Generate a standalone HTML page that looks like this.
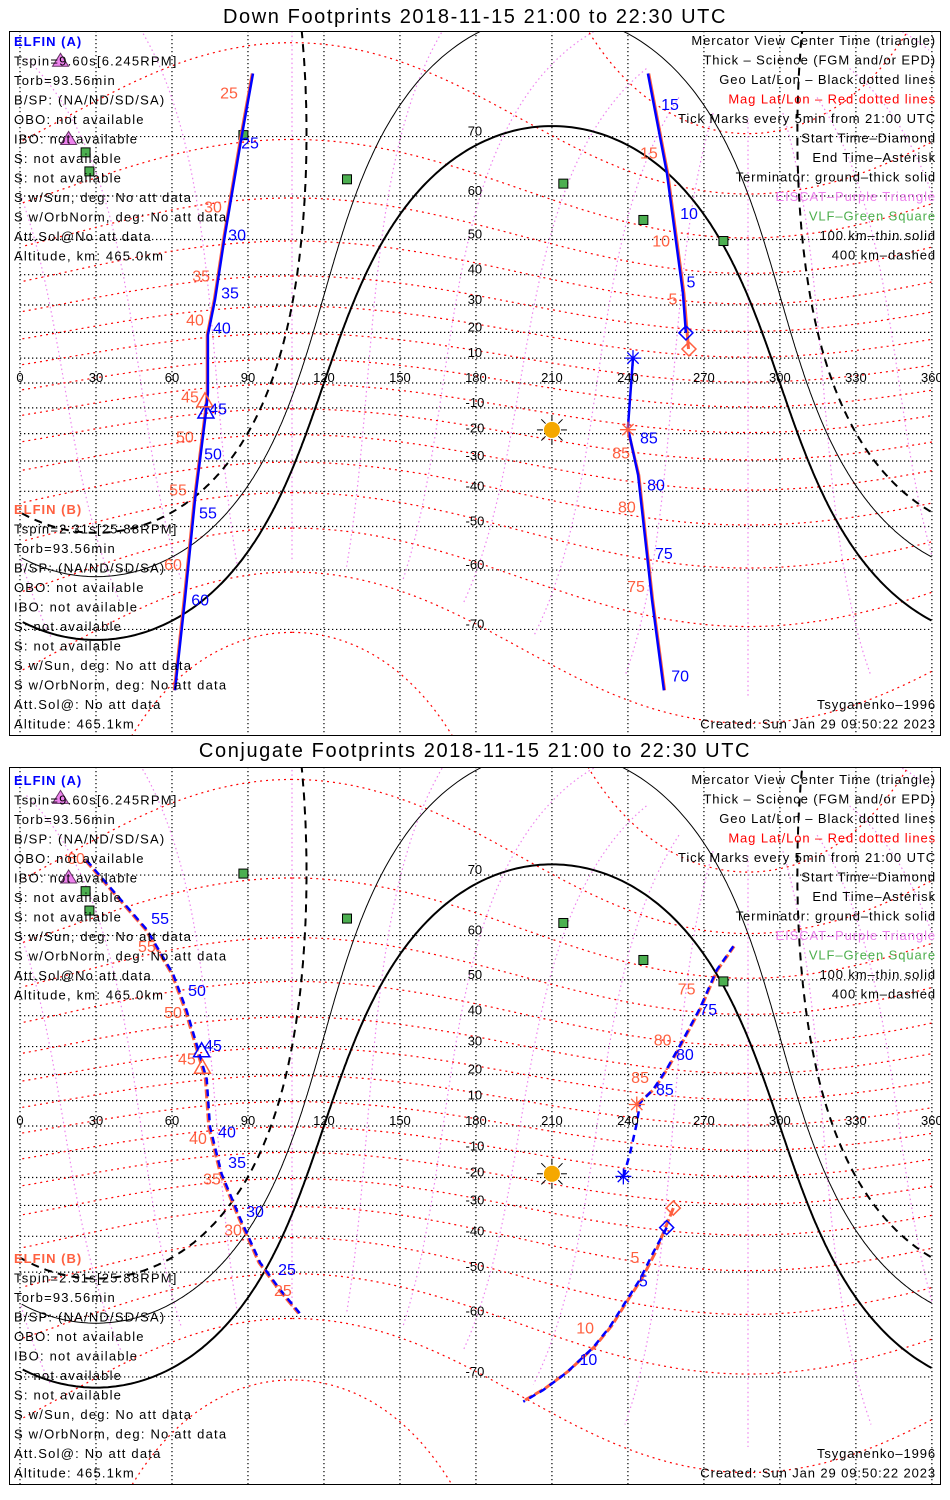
<!DOCTYPE html>
<html><head><meta charset="utf-8"><title>ELFIN Footprints</title>
<style>
html,body{margin:0;padding:0;background:#fff;width:950px;height:1500px;overflow:hidden;}
svg{display:block;font-family:"Liberation Sans",sans-serif;}
</style></head>
<body>
<svg id="chart" width="950" height="1500" viewBox="0 0 950 1500" xmlns="http://www.w3.org/2000/svg">
<rect x="0" y="0" width="950" height="1500" fill="#fff"/>
</svg>
<script>
// ---------- axis ticks ----------
const lonTicks = [0,30,60,90,120,150,180,210,240,270,300,330,360];
const latTicks = [-70,-60,-50,-40,-30,-20,-10,10,20,30,40,50,60,70];
const magLatLevels = [-80,-70,-60,-50,-40,-30,-20,-10,0,10,20,30,40,50,60,70,80];
const magLonLevels = [0,30,60,90,120,150,180,210,240,270,300,330];
const magPole = [80.4, 287.4];
const sunPos = [210, -18.6];
const terminatorAltKm = [0, 100, 400];
// ---------- stations ----------
const vlfLon = [25.9,27.4,88.2,129.1,214.5,246.1,277.7];
const vlfLat = [67.7,64.6,70.2,63.2,62.4,54.8,49.6];
const eiscatLon = [16.0,19.2];
const eiscatLat = [78.15,69.6];
// ---------- panel 1: down footprints ----------
const p1A1Lon = [92.0,87.6,80.9,77.0,74.2,74.2,73.4,69.1,65.1,61.2];
const p1A1Lat = [77.1,70.2,51.1,31.8,19.0,-4.0,-12.0,-42.6,-65.5,-76.9];
const p1B1Lon = [91.7,87.3,80.6,76.7,73.9,73.9,73.1,68.8,64.8,60.9];
const p1B1Lat = [77.1,70.2,51.1,31.8,19.0,-4.0,-12.0,-42.6,-65.5,-76.9];
const p1A2Lon = [247.9,255.4,261.7,262.9];
const p1A2Lat = [77.1,64.3,34.1,19.8];
const p1B2Lon = [248.2,255.7,262.1,263.9];
const p1B2Lat = [77.1,64.3,34.1,13.6];
const p1A3Lon = [242.0,240.0,244.0,249.5,254.2];
const p1A3Lat = [10.0,-17.8,-34.8,-65.5,-76.9];
const p1B3Lon = [240.0,244.3,249.8,254.5];
const p1B3Lat = [-18.5,-34.8,-65.5,-76.9];
const p1TriA = [73.4,-12.0], p1TriB = [73.0,-7.6];
const p1DiaA = [262.9,19.8], p1DiaB = [264.1,13.6];
const p1AstA = [242.0,10.0], p1AstB = [240.0,-18.5];
const p1BlueText = ["25","30","35","40","45","50","55","60","15","10","5","85","80","75","70"];
const p1BlueLon = [90.8,85.7,82.9,79.7,78.2,76.2,74.2,71.1,256.6,264.1,264.9,248.3,251.1,254.2,260.6];
const p1BlueLat = [69.1,51.2,34.1,21.7,-10.4,-27.5,-46.4,-65.5,74.0,56.3,37.7,-21.7,-38.0,-56.5,-75.5];
const p1RedText = ["25","30","35","40","45","50","55","60","15","10","5","85","80","75"];
const p1RedLon = [82.5,76.2,71.5,69.1,67.1,65.1,62.4,60.4,248.3,253.1,257.8,237.3,239.6,243.2];
const p1RedLat = [75.2,57.7,39.6,24.7,-5.7,-21.3,-39.6,-58.9,67.6,49.6,32.1,-27.2,-44.7,-63.2];
// ---------- panel 2: conjugate footprints ----------
const p2A1Lon = [26.3,39.5,50.0,60.5,65.8,69.8,73.7,75.0,79.6,86.9,94.8,102.6,110.5];
const p2A1Lat = [71.9,66.5,61.2,51.4,41.5,30.5,18.3,-0.3,-18.6,-34.3,-47.5,-54.2,-59.4];
const p2B1Lon = [25.8,39.0,49.5,60.0,65.3,69.3,73.2,74.5,79.1,86.4,94.3,102.1,110.0];
const p2B1Lat = [71.9,66.5,61.2,51.4,41.5,30.5,18.3,-0.3,-18.6,-34.3,-47.5,-54.2,-59.4];
const p2A2Lon = [255.3,250.0,244.8,239.5,232.9,226.3,215.8,206.6,198.7];
const p2A2Lat = [-37.3,-44.7,-51.8,-56.6,-62.0,-65.6,-69.4,-71.7,-73.1];
const p2B2Lon = [257.9,251.0,245.5,240.2,233.6,227.0,216.5,207.3,199.4];
const p2B2Lat = [-30.9,-44.5,-51.6,-56.4,-61.8,-65.4,-69.2,-71.5,-72.9];
const p2A3Lon = [238.2,240.8,243.5,244.8,250.0,255.3,260.6,268.5,275.0,281.6];
const p2A3Lat = [-19.6,-11.0,1.1,9.2,14.4,22.0,30.5,42.3,52.4,57.8];
const p2B3Lon = [243.5,250.3,255.6,260.9,268.8,275.3,281.9];
const p2B3Lat = [8.5,14.4,22.0,30.5,42.3,52.4,57.8];
const p2TriA = [71.7,28.2], p2TriB = [72.0,22.3];
const p2DiaA = [255.3,-37.3], p2DiaB = [257.9,-30.9];
const p2AstA = [238.2,-19.6], p2AstB = [243.5,8.5];
const p2BlueText = ["55","50","45","40","35","30","25","5","10","85","80","75"];
const p2BlueLon = [55.3,69.9,76.2,81.7,85.7,92.8,105.4,246.1,224.4,254.6,262.5,271.7];
const p2BlueLat = [63.2,47.2,30.3,-2.4,-14.4,-32.1,-49.3,-52.2,-67.5,14.4,27.2,41.8];
const p2RedText = ["60","55","50","45","40","35","30","25","5","10","85","80","75"];
const p2RedLon = [22.1,50.1,60.4,65.9,70.3,75.8,84.1,103.8,242.8,223.1,244.8,253.7,263.2];
const p2RedLat = [72.1,57.8,40.9,25.7,-4.9,-20.5,-38.0,-54.5,-46.1,-62.2,18.9,32.2,47.6];

const leftA = ["Tspin=9.60s[6.245RPM]","Torb=93.56min","B/SP: (NA/ND/SD/SA)","OBO: not available","IBO: not available","S: not available","S: not available","S w/Sun, deg: No att data","S w/OrbNorm, deg: No att data","Att.Sol@No att data","Altitude, km: 465.0km"];
const leftB = ["Tspin=2.31s[25.88RPM]","Torb=93.56min","B/SP: (NA/ND/SD/SA)","OBO: not available","IBO: not available","S: not available","S: not available","S w/Sun, deg: No att data","S w/OrbNorm, deg: No att data","Att.Sol@: No att data","Altitude: 465.1km"];
const legendText = ["Mercator View Center Time (triangle)","Thick – Science (FGM and/or EPD)","Geo Lat/Lon – Black dotted lines","Mag Lat/Lon – Red dotted lines","Tick Marks every 5min from 21:00 UTC","Start Time–Diamond","End Time–Asterisk","Terminator: ground–thick solid","EISCAT–Purple Triangle","VLF–Green Square","100 km–thin solid","400 km–dashed"];
const legendColor = ["#000","#000","#000","#ff0000","#000","#000","#000","#000","#ee82ee","#4cae4c","#000","#000"];

const BLUE = "#0000ff", RED = "#ff5f3f";
const NS = "http://www.w3.org/2000/svg";
const svg = document.getElementById("chart");
const D = Math.PI/180;

function mk(tag, attrs, parent){
  const e = document.createElementNS(NS, tag);
  for (const k in attrs) e.setAttribute(k, attrs[k]);
  (parent || svg).appendChild(e);
  return e;
}
function xOf(lon){ return 20 + lon*2.533; }
function yOf(P, lat){ const la = Math.max(-86, Math.min(86, lat)); return P.y0 - P.R*Math.log(Math.tan(Math.PI/4 + la*D/2)); }
function norm(l){ return ((l % 360) + 360) % 360; }
function dest(clat, clon, r, b){
  const la1 = clat*D, rr = r*D, bb = b*D;
  const la2 = Math.asin(Math.sin(la1)*Math.cos(rr) + Math.cos(la1)*Math.sin(rr)*Math.cos(bb));
  const lo2 = clon*D + Math.atan2(Math.sin(bb)*Math.sin(rr)*Math.cos(la1), Math.cos(rr) - Math.sin(la1)*Math.sin(la2));
  return [la2/D, norm(lo2/D)];
}
function curvePath(P, pts){
  let d = "", prev = null;
  for (const p of pts){
    const x = xOf(p[1]), y = yOf(P, p[0]);
    if (prev === null || Math.abs(p[1]-prev) > 180) d += "M" + x.toFixed(1) + " " + y.toFixed(1);
    else d += "L" + x.toFixed(1) + " " + y.toFixed(1);
    prev = p[1];
  }
  return d;
}
function trackPath(P, lons, lats){
  let d = "";
  for (let i=0;i<lons.length;i++) d += (i?"L":"M") + xOf(lons[i]).toFixed(1) + " " + yOf(P, lats[i]).toFixed(1);
  return d;
}

const panels = [
 {top:31,bottom:735,y0:383,R:142,titleY:23,title:"Down Footprints 2018-11-15 21:00 to 22:30 UTC",dash:null,
  tracks:[[p1B1Lon,p1B1Lat,RED],[p1B2Lon,p1B2Lat,RED],[p1B3Lon,p1B3Lat,RED],[p1A1Lon,p1A1Lat,BLUE],[p1A2Lon,p1A2Lat,BLUE],[p1A3Lon,p1A3Lat,BLUE]],
  tri:[p1TriA,p1TriB],dia:[p1DiaA,p1DiaB],ast:[p1AstA,p1AstB],
  labels:[[p1BlueText,p1BlueLon,p1BlueLat,BLUE],[p1RedText,p1RedLon,p1RedLat,RED]],
  leftA:41,leftB:509,foot:704},
 {top:767,bottom:1484,y0:1126,R:144.6,titleY:757,title:"Conjugate Footprints 2018-11-15 21:00 to 22:30 UTC",dash:true,
  tracks:[[p2B1Lon,p2B1Lat,RED],[p2B2Lon,p2B2Lat,RED],[p2B3Lon,p2B3Lat,RED],[p2A1Lon,p2A1Lat,BLUE],[p2A2Lon,p2A2Lat,BLUE],[p2A3Lon,p2A3Lat,BLUE]],
  tri:[p2TriA,p2TriB],dia:[p2DiaA,p2DiaB],ast:[p2AstA,p2AstB],
  labels:[[p2BlueText,p2BlueLon,p2BlueLat,BLUE],[p2RedText,p2RedLon,p2RedLat,RED]],
  leftA:780,leftB:1258,foot:1453}
];

panels.forEach((P, pi) => {
  const title = mk("text", {x:475, y:P.titleY, "text-anchor":"middle", "font-size":"20", fill:"#000", "letter-spacing":"1.6"});
  
  
  title.textContent = P.title;

  const cp = mk("clipPath", {id:"clip"+pi});
  mk("rect", {x:10, y:P.top+1, width:930, height:P.bottom-P.top-1}, cp);
  const g = mk("g", {"clip-path":"url(#clip"+pi+")"});
  
  

  lonTicks.forEach(lo => {
    const l = mk("line", {x1:xOf(lo), x2:xOf(lo), y1:P.top, y2:P.bottom, stroke:"#000", "stroke-width":1.2, "stroke-dasharray":"1.3 2.7"}, g);
    
    
  });
  latTicks.concat([0]).forEach(la => {
    const l = mk("line", {x1:20, x2:932, y1:yOf(P,la), y2:yOf(P,la), stroke:"#000", "stroke-width":1.2, "stroke-dasharray":"1.3 2.7"}, g);
    
    
  });
  magLonLevels.forEach(b => {
    const pts = [];
    for (let r=8;r<=158;r+=1) pts.push(dest(magPole[0], magPole[1], r, b));
    const p = mk("path", {d:curvePath(P, pts), fill:"none", stroke:"#ee82ee", "stroke-width":1.2, "stroke-dasharray":"1.5 3"}, g);
    
    
  });
  magLatLevels.forEach(m => {
    const pts = [];
    for (let b=0;b<=360;b+=1) pts.push(dest(magPole[0], magPole[1], 90-m, b));
    const p = mk("path", {d:curvePath(P, pts), fill:"none", stroke:"#ff0000", "stroke-width":1.2, "stroke-dasharray":"2 4"}, g);
    
    
  });
  terminatorAltKm.forEach(h => {
    const a = Math.acos(6371/(6371+h))/D;
    const pts = [];
    for (let b=0;b<=360;b+=0.5) pts.push(dest(-sunPos[1], norm(sunPos[0]-180), 90-a, b));
    const attrs = {d:curvePath(P, pts), fill:"none", stroke:"#000"};
    if (h === 0) attrs["stroke-width"] = 2;
    else if (h === 100) attrs["stroke-width"] = 1;
    else { attrs["stroke-width"] = 2; attrs["stroke-dasharray"] = "8 6"; }
    const p = mk("path", attrs, g);
    
    
  });
  const sx = xOf(sunPos[0]), sy = yOf(P, sunPos[1]);
  for (let k=0;k<8;k++){
    const an = k*45*D;
    const ray = mk("line", {x1:sx+9*Math.cos(an), y1:sy+9*Math.sin(an), x2:sx+15*Math.cos(an), y2:sy+15*Math.sin(an), stroke:"#000", "stroke-width":1}, g);
    
    
  }
  const sun = mk("circle", {cx:sx, cy:sy, r:8, fill:"#f5a800"}, g);
  
  
  vlfLon.forEach((lo,i) => {
    const x = xOf(lo), y = yOf(P, vlfLat[i]);
    const s = mk("rect", {x:x-4.5, y:y-4.5, width:9, height:9, fill:"#4caf50", stroke:"#000", "stroke-width":1}, g);
    
    
  });
  eiscatLon.forEach((lo,i) => {
    const x = xOf(lo), y = yOf(P, eiscatLat[i]);
    const t = mk("polygon", {points:`${x},${y-8} ${x-8},${y+5} ${x+8},${y+5}`, fill:"#ee82ee", stroke:"#663366", "stroke-width":1}, g);
    
    
  });
  P.tracks.forEach(tr => {
    const isRed = tr[2] === RED;
    const attrs = {d:trackPath(P, tr[0], tr[1]), fill:"none", stroke:tr[2], "stroke-width": isRed ? 3 : 2.5};
    if (P.dash) attrs["stroke-dasharray"] = isRed ? "9 3" : "7 5";
    const p = mk("path", attrs, g);
    
    
  });
  P.tri.forEach((m,i) => {
    const x = xOf(m[0]), y = yOf(P, m[1]);
    const t = mk("polygon", {points:`${x},${y-9} ${x-8},${y+5} ${x+8},${y+5}`, fill:"none", stroke:i?RED:BLUE, "stroke-width":1.5}, g);
    
    
  });
  P.dia.forEach((m,i) => {
    const x = xOf(m[0]), y = yOf(P, m[1]);
    const t = mk("polygon", {points:`${x},${y-7} ${x+7},${y} ${x},${y+7} ${x-7},${y}`, fill:"none", stroke:i?RED:BLUE, "stroke-width":1.5}, g);
    
    
  });
  P.ast.forEach((m,i) => {
    const x = xOf(m[0]), y = yOf(P, m[1]);
    for (let k=0;k<4;k++){
      const an = k*45*D;
      const l = mk("line", {x1:x-8*Math.cos(an), y1:y-8*Math.sin(an), x2:x+8*Math.cos(an), y2:y+8*Math.sin(an), stroke:i?RED:BLUE, "stroke-width":1.3}, g);
      
      
    }
  });
  P.labels.forEach(L => {
    L[0].forEach((txt,i) => {
      const t = mk("text", {x:xOf(L[1][i]), y:yOf(P, L[2][i])+5.5, "text-anchor":"middle", "font-size":"16", fill:L[3]}, g);
      
      
      t.textContent = txt;
    });
  });
  lonTicks.forEach(lo => {
    const t = mk("text", {x:xOf(lo), y:P.y0-1, "text-anchor":"middle", "font-size":"13", fill:"#000"}, g);
    
    
    t.textContent = lo;
  });
  latTicks.forEach(la => {
    const t = mk("text", {x:xOf(180)-1, y:yOf(P,la)-1, "text-anchor":"middle", "font-size":"13", fill:"#000"}, g);
    
    
    t.textContent = la;
  });

  const ta = mk("text", {x:14, y:P.leftA+5, "font-size":"13", "font-weight":"bold", fill:BLUE, "letter-spacing":"1"});
  
  
  ta.textContent = "ELFIN (A)";
  leftA.forEach((s,i) => {
    const t = mk("text", {x:14, y:P.leftA+5+(i+1)*19.5, "font-size":"13", fill:"#000", "letter-spacing":"1.2"});
    
    
    t.textContent = s;
  });
  const tb = mk("text", {x:14, y:P.leftB+5, "font-size":"13", "font-weight":"bold", fill:RED, "letter-spacing":"1"});
  
  
  tb.textContent = "ELFIN (B)";
  leftB.forEach((s,i) => {
    const t = mk("text", {x:14, y:P.leftB+5+(i+1)*19.5, "font-size":"13", fill:"#000", "letter-spacing":"1.2"});
    
    
    t.textContent = s;
  });
  legendText.forEach((s,i) => {
    const t = mk("text", {x:936, y:P.leftA+4+i*19.5, "text-anchor":"end", "font-size":"13", fill:legendColor[i], "letter-spacing":"0.9"});
    
    
    t.textContent = s;
  });
  const f1 = mk("text", {x:936, y:P.foot+5, "text-anchor":"end", "font-size":"13", fill:"#000", "letter-spacing":"0.9"});
  
  
  f1.textContent = "Tsyganenko–1996";
  const f2 = mk("text", {x:936, y:P.foot+24.5, "text-anchor":"end", "font-size":"13", fill:"#000", "letter-spacing":"0.9"});
  
  
  f2.textContent = "Created: Sun Jan 29 09:50:22 2023";

  const box = mk("rect", {x:9.5, y:P.top+0.5, width:931, height:P.bottom-P.top, fill:"none", stroke:"#000", "stroke-width":1});
  
  
});
</script>
</body></html>
